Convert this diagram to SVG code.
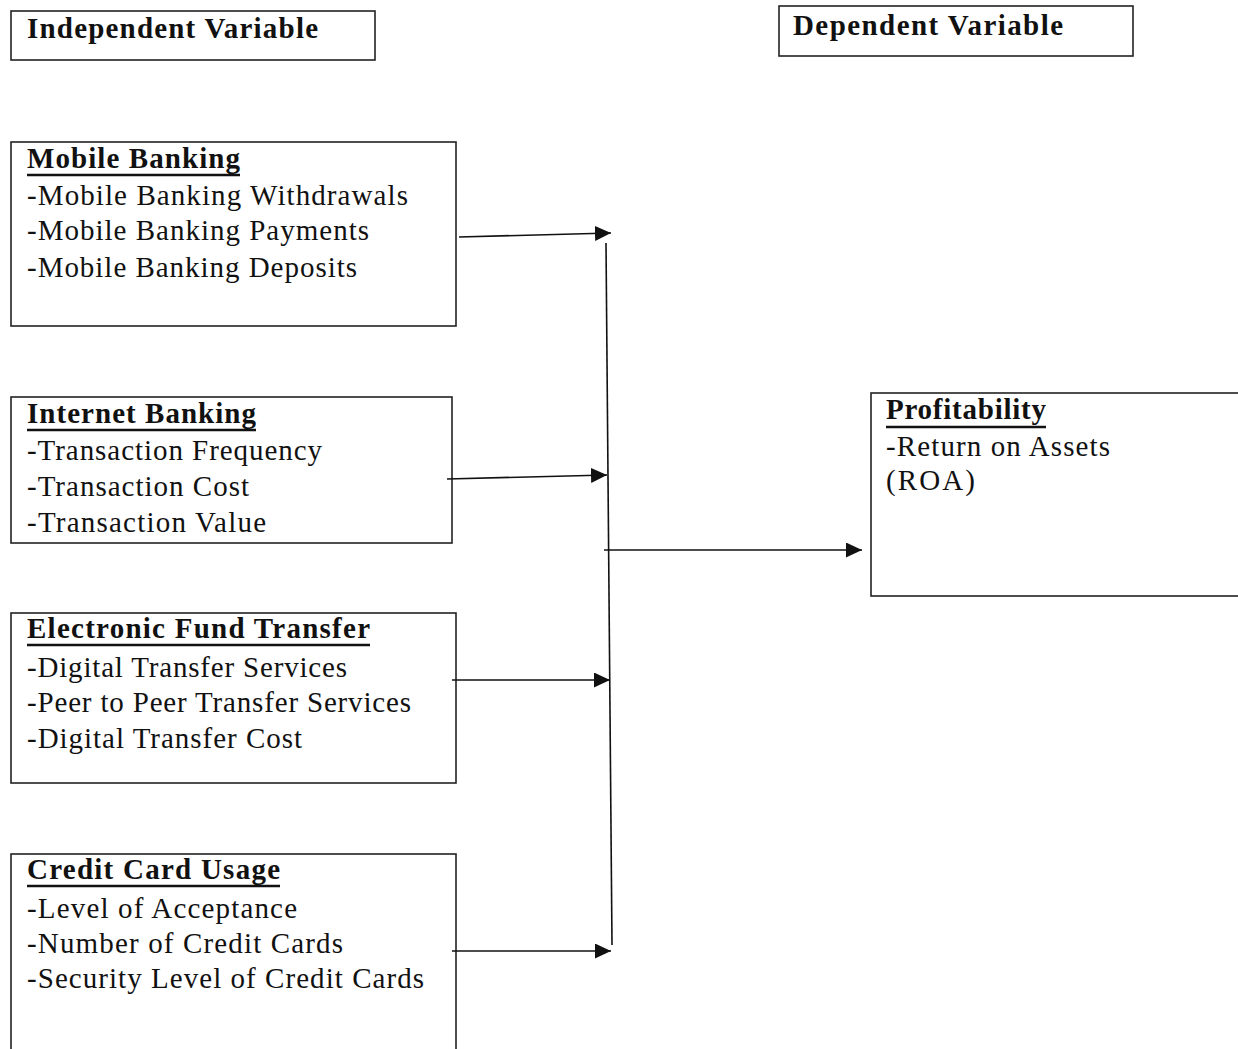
<svg xmlns="http://www.w3.org/2000/svg" width="1238" height="1049" viewBox="0 0 1238 1049">
<style>
.box{fill:#fff;stroke:#222;stroke-width:1.6}
.h{font-family:"Liberation Serif","Times New Roman",serif;font-weight:bold;font-size:29px;fill:#111}
.t{font-family:"Liberation Serif","Times New Roman",serif;font-size:29px;fill:#111}
.ul{stroke:#111;stroke-width:2.5}
.c{stroke:#111;stroke-width:1.6;fill:none}
</style>
<defs>
<marker id="arr" markerUnits="userSpaceOnUse" markerWidth="17" markerHeight="16" refX="16" refY="7.5" orient="auto">
<path d="M0,0 L16,7.5 L0,15 z" fill="#111"/>
</marker>
</defs>
<rect width="1238" height="1049" fill="#fff"/>

<g id="independent-label">
<rect class="box" x="11" y="11" width="364" height="49"/>
<text class="h" x="27" y="38" font-size="30" textLength="291" lengthAdjust="spacing">Independent Variable</text>
</g>

<g id="dependent-label">
<rect class="box" x="779" y="6" width="354" height="50"/>
<text class="h" x="793" y="35" font-size="30" textLength="270" lengthAdjust="spacing">Dependent Variable</text>
</g>

<g id="mobile-banking">
<rect class="box" x="11" y="142" width="445" height="184"/>
<text class="h" x="27" y="168" textLength="213" lengthAdjust="spacing">Mobile Banking</text>
<line class="ul" x1="27" y1="175" x2="240" y2="175"/>
<text class="t" x="27" y="205" textLength="381" lengthAdjust="spacing">-Mobile Banking Withdrawals</text>
<text class="t" x="27" y="240" textLength="342" lengthAdjust="spacing">-Mobile Banking Payments</text>
<text class="t" x="27" y="277" textLength="330" lengthAdjust="spacing">-Mobile Banking Deposits</text>
</g>

<g id="internet-banking">
<rect class="box" x="11" y="397" width="441" height="146"/>
<text class="h" x="27" y="423" textLength="229" lengthAdjust="spacing">Internet Banking</text>
<line class="ul" x1="27" y1="430" x2="256" y2="430"/>
<text class="t" x="27" y="460" textLength="295" lengthAdjust="spacing">-Transaction Frequency</text>
<text class="t" x="27" y="496" textLength="222" lengthAdjust="spacing">-Transaction Cost</text>
<text class="t" x="27" y="532" textLength="239" lengthAdjust="spacing">-Transaction Value</text>
</g>

<g id="electronic-fund-transfer">
<rect class="box" x="11" y="613" width="445" height="170"/>
<text class="h" x="27" y="638" textLength="343" lengthAdjust="spacing">Electronic Fund Transfer</text>
<line class="ul" x1="27" y1="645" x2="370" y2="645"/>
<text class="t" x="27" y="677" textLength="320" lengthAdjust="spacing">-Digital Transfer Services</text>
<text class="t" x="27" y="712" textLength="384" lengthAdjust="spacing">-Peer to Peer Transfer Services</text>
<text class="t" x="27" y="748" textLength="275" lengthAdjust="spacing">-Digital Transfer Cost</text>
</g>

<g id="credit-card-usage">
<rect class="box" x="11" y="854" width="445" height="210"/>
<text class="h" x="27" y="879" textLength="253" lengthAdjust="spacing">Credit Card Usage</text>
<line class="ul" x1="27" y1="886" x2="280" y2="886"/>
<text class="t" x="27" y="918" textLength="270" lengthAdjust="spacing">-Level of Acceptance</text>
<text class="t" x="27" y="953" textLength="316" lengthAdjust="spacing">-Number of Credit Cards</text>
<text class="t" x="27" y="988" textLength="397" lengthAdjust="spacing">-Security Level of Credit Cards</text>
</g>

<g id="profitability">
<rect class="box" x="871" y="393" width="380" height="203"/>
<text class="h" x="886" y="419" textLength="160" lengthAdjust="spacing">Profitability</text>
<line class="ul" x1="886" y1="427" x2="1046" y2="427"/>
<text class="t" x="886" y="456" textLength="224" lengthAdjust="spacing">-Return on Assets</text>
<text class="t" x="886" y="490" textLength="89" lengthAdjust="spacing">(ROA)</text>
</g>

<g id="connectors">
<line class="c" x1="606" y1="243" x2="612" y2="945"/>
<line class="c" x1="459" y1="237" x2="611" y2="233" marker-end="url(#arr)"/>
<line class="c" x1="447" y1="479" x2="607" y2="475" marker-end="url(#arr)"/>
<line class="c" x1="452" y1="680" x2="610" y2="680" marker-end="url(#arr)"/>
<line class="c" x1="452" y1="951" x2="611" y2="951" marker-end="url(#arr)"/>
<line class="c" x1="604" y1="550" x2="862" y2="550" marker-end="url(#arr)"/>
</g>
</svg>
